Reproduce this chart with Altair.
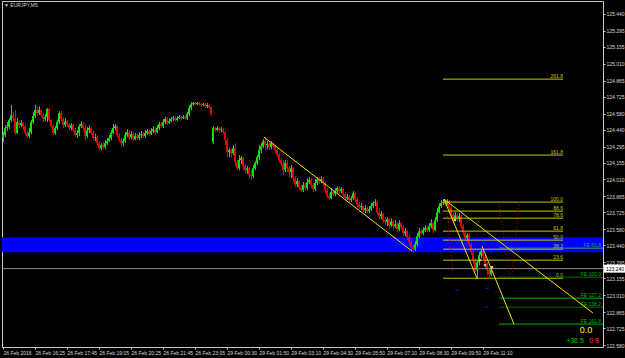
import altair as alt
import pandas as pd

# ---------------- data (EURJPY, M5) ----------------
closes = [
 124.394, 124.454, 124.463, 124.523, 124.566, 124.540, 124.411, 124.506, 124.480, 124.497,
 124.471, 124.411, 124.385, 124.419, 124.506, 124.558, 124.610, 124.584, 124.610, 124.566,
 124.532, 124.549, 124.618, 124.523, 124.471, 124.411, 124.454, 124.506, 124.584, 124.532,
 124.480, 124.514, 124.489, 124.454, 124.480, 124.437, 124.394, 124.411, 124.471, 124.489,
 124.454, 124.385, 124.437, 124.454, 124.411, 124.368, 124.376, 124.324, 124.281, 124.307,
 124.290, 124.324, 124.342, 124.368, 124.411, 124.454, 124.471, 124.394, 124.350, 124.324,
 124.342, 124.394, 124.419, 124.376, 124.402, 124.359, 124.385, 124.368, 124.394, 124.402,
 124.385, 124.411, 124.428, 124.402, 124.428, 124.445, 124.419, 124.454, 124.489, 124.471,
 124.506, 124.532, 124.497, 124.514, 124.532, 124.540, 124.523, 124.540, 124.549, 124.540,
 124.549, 124.540, 124.575, 124.627, 124.661, 124.670, 124.661, 124.670, 124.661, 124.653,
 124.661, 124.644, 124.653, 124.636, 124.575, 124.454, 124.437, 124.454, 124.437, 124.445,
 124.419, 124.350, 124.247, 124.264, 124.238, 124.281, 124.160, 124.108, 124.178, 124.195,
 124.126, 124.091, 124.108, 124.048, 124.039, 124.108, 124.152, 124.203, 124.264, 124.298,
 124.342, 124.307, 124.316, 124.290, 124.324, 124.298, 124.264, 124.221, 124.178, 124.143,
 124.091, 124.152, 124.108, 124.074, 124.108, 124.022, 123.970, 123.996, 123.936, 123.918,
 123.962, 123.936, 123.987, 124.005, 123.962, 123.927, 123.979, 124.013, 123.996, 124.013,
 123.979, 123.918, 123.866, 123.849, 123.901, 123.884, 123.910, 123.936, 123.910, 123.927,
 123.884, 123.849, 123.858, 123.832, 123.849, 123.892, 123.840, 123.797, 123.771, 123.780,
 123.745, 123.763, 123.737, 123.754, 123.780, 123.806, 123.815, 123.728, 123.693, 123.711,
 123.659, 123.642, 123.667, 123.616, 123.650, 123.607, 123.624, 123.581, 123.633, 123.598,
 123.546, 123.564, 123.512, 123.469, 123.425, 123.408, 123.451, 123.520, 123.564, 123.546,
 123.572, 123.590, 123.572, 123.607, 123.633, 123.572, 123.659, 123.728, 123.780, 123.806,
 123.815, 123.797, 123.823, 123.763, 123.711, 123.667, 123.702, 123.676, 123.693, 123.607,
 123.555, 123.503, 123.529, 123.451, 123.382, 123.313, 123.226, 123.296, 123.356, 123.391,
 123.347, 123.287, 123.226, 123.192, 123.240]

highs = [
 124.419, 124.480, 124.506, 124.540, 124.653, 124.592, 124.610, 124.540, 124.523, 124.523,
 124.506, 124.489, 124.428, 124.454, 124.523, 124.592, 124.653, 124.636, 124.644, 124.618,
 124.584, 124.575, 124.627, 124.627, 124.532, 124.489, 124.471, 124.523, 124.601, 124.601,
 124.549, 124.540, 124.523, 124.497, 124.497, 124.489, 124.454, 124.437, 124.489, 124.514,
 124.506, 124.489, 124.463, 124.480, 124.463, 124.437, 124.402, 124.394, 124.342, 124.324,
 124.333, 124.350, 124.368, 124.394, 124.437, 124.489, 124.489, 124.480, 124.411, 124.368,
 124.368, 124.419, 124.445, 124.437, 124.428, 124.419, 124.411, 124.402, 124.419, 124.428,
 124.419, 124.437, 124.445, 124.445, 124.454, 124.471, 124.463, 124.480, 124.506, 124.506,
 124.532, 124.549, 124.549, 124.540, 124.549, 124.558, 124.558, 124.558, 124.566, 124.558,
 124.566, 124.558, 124.592, 124.653, 124.679, 124.679, 124.679, 124.679, 124.679, 124.670,
 124.670, 124.670, 124.670, 124.661, 124.644, 124.471, 124.463, 124.471, 124.463, 124.463,
 124.454, 124.428, 124.368, 124.281, 124.272, 124.307, 124.324, 124.178, 124.221, 124.212,
 124.203, 124.143, 124.126, 124.117, 124.091, 124.134, 124.169, 124.221, 124.307, 124.324,
 124.359, 124.376, 124.342, 124.333, 124.342, 124.333, 124.307, 124.281, 124.238, 124.195,
 124.178, 124.178, 124.178, 124.126, 124.134, 124.117, 124.039, 124.022, 124.005, 123.962,
 123.987, 123.979, 124.022, 124.031, 124.022, 123.979, 124.013, 124.031, 124.031, 124.039,
 124.031, 123.996, 123.936, 123.892, 123.936, 123.918, 123.936, 123.953, 123.953, 123.944,
 123.936, 123.901, 123.884, 123.875, 123.866, 123.910, 123.901, 123.858, 123.815, 123.806,
 123.789, 123.789, 123.780, 123.780, 123.806, 123.823, 123.840, 123.832, 123.763, 123.737,
 123.719, 123.685, 123.685, 123.676, 123.676, 123.659, 123.659, 123.642, 123.659, 123.642,
 123.616, 123.590, 123.572, 123.529, 123.486, 123.443, 123.477, 123.546, 123.590, 123.581,
 123.598, 123.616, 123.607, 123.633, 123.667, 123.642, 123.685, 123.763, 123.806, 123.832,
 123.840, 123.832, 123.840, 123.832, 123.780, 123.728, 123.728, 123.711, 123.719, 123.702,
 123.624, 123.564, 123.546, 123.538, 123.460, 123.399, 123.330, 123.313, 123.382, 123.408,
 123.399, 123.365, 123.296, 123.244, 123.261]

lows = [
 124.333, 124.376, 124.428, 124.445, 124.506, 124.514, 124.394, 124.402, 124.454, 124.463,
 124.437, 124.394, 124.368, 124.368, 124.402, 124.489, 124.540, 124.558, 124.566, 124.549,
 124.506, 124.514, 124.506, 124.506, 124.454, 124.394, 124.394, 124.437, 124.489, 124.514,
 124.454, 124.463, 124.463, 124.437, 124.437, 124.419, 124.376, 124.368, 124.385, 124.454,
 124.428, 124.350, 124.368, 124.411, 124.394, 124.350, 124.342, 124.298, 124.264, 124.264,
 124.272, 124.272, 124.307, 124.333, 124.350, 124.402, 124.437, 124.376, 124.333, 124.290,
 124.298, 124.324, 124.376, 124.350, 124.359, 124.342, 124.350, 124.350, 124.350, 124.368,
 124.368, 124.368, 124.394, 124.385, 124.394, 124.411, 124.402, 124.411, 124.437, 124.454,
 124.454, 124.489, 124.480, 124.489, 124.506, 124.514, 124.514, 124.514, 124.532, 124.523,
 124.532, 124.523, 124.523, 124.558, 124.610, 124.644, 124.653, 124.653, 124.644, 124.636,
 124.644, 124.627, 124.627, 124.618, 124.558, 124.316, 124.419, 124.428, 124.411, 124.419,
 124.402, 124.307, 124.203, 124.203, 124.195, 124.221, 124.126, 124.091, 124.091, 124.143,
 124.091, 124.065, 124.057, 124.022, 124.005, 124.022, 124.091, 124.134, 124.178, 124.238,
 124.281, 124.264, 124.272, 124.264, 124.272, 124.281, 124.238, 124.203, 124.152, 124.126,
 124.048, 124.074, 124.074, 124.031, 124.022, 123.987, 123.944, 123.944, 123.918, 123.901,
 123.901, 123.918, 123.918, 123.970, 123.936, 123.901, 123.910, 123.962, 123.970, 123.979,
 123.953, 123.892, 123.849, 123.832, 123.840, 123.866, 123.866, 123.892, 123.884, 123.892,
 123.858, 123.832, 123.832, 123.815, 123.815, 123.832, 123.815, 123.771, 123.754, 123.745,
 123.728, 123.719, 123.719, 123.719, 123.737, 123.763, 123.780, 123.702, 123.667, 123.667,
 123.633, 123.616, 123.607, 123.590, 123.598, 123.572, 123.590, 123.555, 123.564, 123.572,
 123.520, 123.520, 123.486, 123.443, 123.399, 123.382, 123.391, 123.434, 123.503, 123.529,
 123.529, 123.555, 123.555, 123.555, 123.590, 123.546, 123.564, 123.642, 123.719, 123.763,
 123.789, 123.780, 123.789, 123.737, 123.685, 123.642, 123.650, 123.650, 123.642, 123.581,
 123.529, 123.477, 123.477, 123.425, 123.356, 123.287, 123.209, 123.157, 123.270, 123.330,
 123.321, 123.244, 123.183, 123.166, 123.174]

# each bar opens at the previous close, except the first bar and the Monday gap bar (105)
first_open = 124.368
gap_open = 124.333
opens = [first_open] + closes[:104] + [gap_open] + closes[105:-1]

time_tick_bars = [0, 16, 32, 48, 64, 80, 96, 112, 128, 144, 160, 176, 192, 208, 224, 240]
time_labels = ["26 Feb 2016", "26 Feb 16:25", "26 Feb 17:45", "26 Feb 19:05", "26 Feb 20:25",
               "26 Feb 21:45", "26 Feb 23:05", "29 Feb 00:30", "29 Feb 01:50", "29 Feb 03:10",
               "29 Feb 04:30", "29 Feb 05:50", "29 Feb 07:10", "29 Feb 08:30", "29 Feb 09:50",
               "29 Feb 11:10"]
price_ticks = [125.440, 125.295, 125.155, 125.010, 124.865, 124.725, 124.580, 124.440, 124.295,
               124.155, 124.010, 123.865, 123.725, 123.580, 123.440, 123.295, 123.155, 123.010,
               122.865, 122.725, 122.580]

fib_labels = ["261.8", "161.8", "100.0", "88.6", "78.6", "61.8", "50.0", "38.2", "23.6", "0.0"]
fib_prices = [124.877, 124.221, 123.815, 123.737, 123.676, 123.564, 123.486, 123.408, 123.313, 123.157]
fib_start_bar, fib_end_bar = 220, 280

fe_labels = ["FE 61.8", "FE 100.0", "FE 127.2", "FE 138.2", "FE 161.8"]
fe_prices = [123.417, 123.166, 122.985, 122.907, 122.761]
fe_colors = ["#3c9c5a", "#006e00", "#00b000", "#006e00", "#00b000"]
fe_start_bar, fe_end_bar, fe_label_bar = 248, 300, 299

trend_bar_a = [130.5, 220.5, 220.5, 239.5]
trend_price_a = [124.376, 123.840, 123.840, 123.434]
trend_bar_b = [204.5, 237.0, 295.0, 255.5]
trend_price_b = [123.391, 123.157, 122.856, 122.761]

arc_bar_a = [222.0, 248.0, 258.0]
arc_price_a = [123.745, 123.806, 123.815]
arc_bar_b = [225.0, 253.5, 254.5]
arc_price_b = [123.192, 123.166, 123.166]

blue_mark_bars = [227, 242, 242]
blue_mark_prices = [123.054, 123.071, 122.907]
pink_mark_bars = [226, 238.5, 241, 244.5]
pink_mark_prices = [123.659, 123.313, 123.270, 123.252]

zone_top, zone_bottom = 123.512, 123.382
bid = 123.240
bid_text = "123.240"
symbol_text = "\u25bc EURJPY,M5"
pnl_points, pnl_pips, pnl_money = "0.0", "+36.5", "0 $"

# ---------------- chart ----------------
FONT = "Liberation Sans"
GREEN, RED = "#00e600", "#e60000"
FIBC = "#c8c400"
YEL = "#f2e200"

bars = pd.DataFrame({"bar": list(range(len(closes))), "open": opens, "high": highs,
                     "low": lows, "close": closes})
bars["left"] = bars["bar"] - 0.5
bars["right"] = bars["bar"] + 0.5
bars["dir"] = ["up" if c >= o else "down" for o, c in zip(opens, closes)]

xs = alt.Scale(domain=[-0.5, 300], nice=False, zero=False)
ys = alt.Scale(domain=[122.563, 125.552], nice=False, zero=False)
label_js = "[" + ",".join("'" + t + "'" for t in time_labels) + "]"
x_axis = alt.Axis(values=time_tick_bars, labelExpr=label_js + "[round(datum.value/16)]",
                  orient="bottom", title=None, labelAlign="left", labelBaseline="top",
                  labelPadding=1, tickSize=2, labelFontSize=5, labelFont=FONT,
                  labelColor="#d8d8d8", tickColor="#c8c8c8", domain=False, grid=False,
                  labelOverlap=False, labelFlush=False, labelBound=False)
y_axis = alt.Axis(values=price_ticks, format=".3f", orient="right", title=None,
                  labelAlign="left", labelBaseline="middle", labelPadding=1, tickSize=2,
                  labelFontSize=5, labelFont=FONT, labelColor="#d8d8d8", tickColor="#c8c8c8",
                  domain=False, grid=False, labelOverlap=False, labelFlush=False, labelBound=False)


def X(f):
    return alt.X(f, type="quantitative", scale=xs, axis=x_axis)


def Y(f):
    return alt.Y(f, type="quantitative", scale=ys, axis=y_axis)


dir_color = alt.Color("dir:N", scale=alt.Scale(domain=["up", "down"], range=[GREEN, RED]), legend=None)

band = alt.Chart(pd.DataFrame({"top": [zone_top], "bottom": [zone_bottom]})).mark_rect(
    color="#0000ff").encode(x=alt.value(0), x2=alt.value("width"), y=Y("top"), y2="bottom")

wicks = alt.Chart(bars).mark_rule(xOffset=0.5, strokeWidth=1).encode(
    x=X("bar"), y=Y("low"), y2="high", color=dir_color)
bodies = alt.Chart(bars).mark_rect().encode(
    x=X("left"), x2="right", y=Y("open"), y2="close", color=dir_color)

bid_line = alt.Chart(pd.DataFrame({"p": [bid]})).mark_rule(color="#8c8c8c").encode(
    x=alt.value(0), x2=alt.value("width"), y=Y("p"))

fib = pd.DataFrame({"lvl": fib_labels, "p": fib_prices,
                    "b0": [fib_start_bar] * len(fib_labels), "b1": [fib_end_bar] * len(fib_labels)})
fib_lines = alt.Chart(fib).mark_rule(color=FIBC).encode(x=X("b0"), x2="b1", y=Y("p"))
fib_text = alt.Chart(fib).mark_text(align="right", baseline="alphabetic", dy=-1, fontSize=5,
                                    font=FONT, color=FIBC).encode(x=X("b1"), y=Y("p"), text="lvl")

fe = pd.DataFrame({"lvl": fe_labels, "p": fe_prices, "col": fe_colors,
                   "b0": [fe_start_bar] * len(fe_labels), "b1": [fe_end_bar] * len(fe_labels),
                   "bl": [fe_label_bar] * len(fe_labels)})
fe_lines = alt.Chart(fe).mark_rule().encode(x=X("b0"), x2="b1", y=Y("p"),
                                            color=alt.Color("col:N", scale=None))
fe_text = alt.Chart(fe).mark_text(align="right", baseline="alphabetic", dy=-1, fontSize=5,
                                  font=FONT, color="#00b400").encode(x=X("bl"), y=Y("p"), text="lvl")

trends = alt.Chart(pd.DataFrame({"b1": trend_bar_a, "p1": trend_price_a, "b2": trend_bar_b,
                                 "p2": trend_price_b})).mark_rule(color=YEL, strokeWidth=1).encode(
    x=X("b1"), y=Y("p1"), x2="b2", y2="p2")

arcs = alt.Chart(pd.DataFrame({"b1": arc_bar_a, "p1": arc_price_a, "b2": arc_bar_b,
                               "p2": arc_price_b})).mark_rule(color="#b40000", strokeDash=[1, 2]).encode(
    x=X("b1"), y=Y("p1"), x2="b2", y2="p2")

blue_marks = alt.Chart(pd.DataFrame({"b": blue_mark_bars, "p": blue_mark_prices})).mark_tick(
    orient="horizontal", size=4, thickness=1, color="#2828ff").encode(x=X("b"), y=Y("p"))
pink_marks = alt.Chart(pd.DataFrame({"b": pink_mark_bars, "p": pink_mark_prices})).mark_square(
    size=5, color="#ffb4b4", opacity=1, filled=True).encode(x=X("b"), y=Y("p"))

badge = alt.Chart(pd.DataFrame({"p": [bid], "t": [bid_text]}))
badge_bg = badge.mark_rule(color="#ffffff", strokeWidth=8).encode(
    x=alt.value(602), x2=alt.value(623), y=Y("p"))
badge_txt = badge.mark_text(align="left", baseline="middle", fontSize=5, font=FONT,
                            color="#000000").encode(x=alt.value(604), y=Y("p"), text="t")

one = pd.DataFrame({"t": [symbol_text]})
symbol = alt.Chart(one).mark_text(align="left", baseline="middle", fontSize=5, font=FONT,
                                  color="#d0d0d0").encode(x=alt.value(2), y=alt.value(4), text="t")
pnl1 = alt.Chart(pd.DataFrame({"t": [pnl_points]})).mark_text(
    align="center", baseline="middle", fontSize=9, font=FONT, color="#ffff00").encode(
    x=alt.value(584), y=alt.value(329), text="t")
pnl2 = alt.Chart(pd.DataFrame({"t": [pnl_pips]})).mark_text(
    align="center", baseline="middle", fontSize=7, font=FONT, color="#00c800").encode(
    x=alt.value(573), y=alt.value(340), text="t")
pnl3 = alt.Chart(pd.DataFrame({"t": [pnl_money]})).mark_text(
    align="center", baseline="middle", fontSize=7, font=FONT, color="#ff3020").encode(
    x=alt.value(592), y=alt.value(340), text="t")

chart = alt.layer(
    band, wicks, bodies, bid_line, fib_lines, fib_text, fe_lines, fe_text, trends, arcs,
    blue_marks, pink_marks, badge_bg, badge_txt, symbol, pnl1, pnl2, pnl3
).properties(
    width=601, height=346, background="#000000",
    padding={"left": 2, "top": 1, "right": 22, "bottom": 11},
    autosize=alt.AutoSizeParams(type="none"),
).configure_view(stroke="#c8c8c8", strokeWidth=1)

chart.save("out.html", embed_options={"renderer": "svg", "actions": False})
